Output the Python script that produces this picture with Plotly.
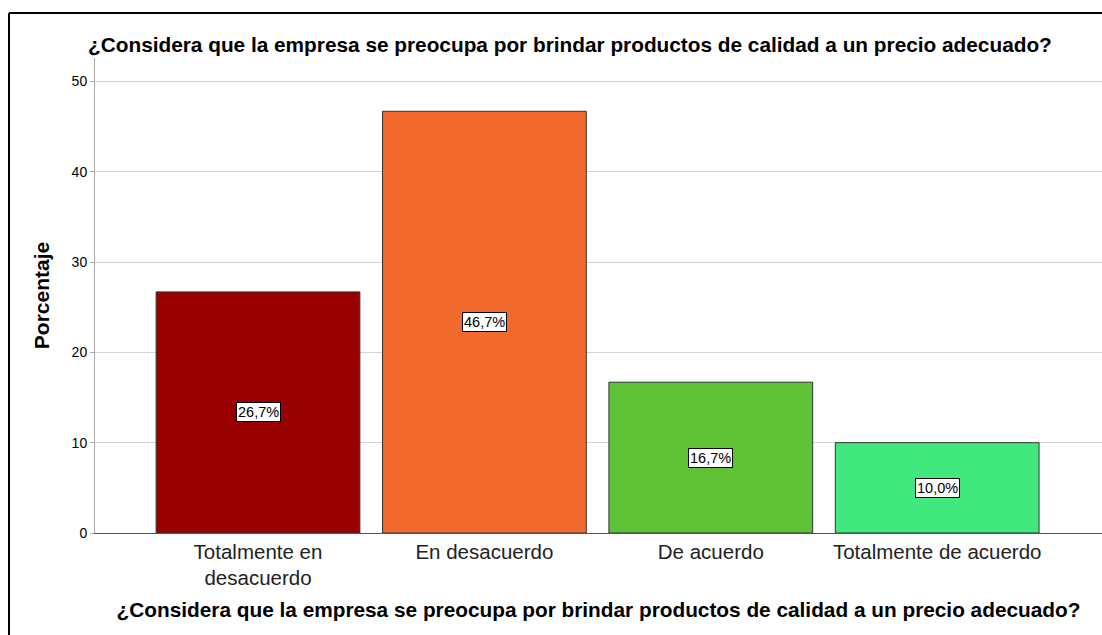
import plotly.graph_objects as go

categories = ["Totalmente en<br>desacuerdo", "En desacuerdo", "De acuerdo", "Totalmente de acuerdo"]
values = [26.7, 46.7, 16.7, 10.0]
labels = ["26,7%", "46,7%", "16,7%", "10,0%"]
colors = ["#990000", "#F26A2E", "#5EC136", "#40E87D"]
title = "¿Considera que la empresa se preocupa por brindar productos de calidad a un precio adecuado?"
y_ticks = [0, 10, 20, 30, 40, 50]

W, H = 1102, 635
L, R, T, B = 95, 0, 58, 102
pw, ph = W - L - R, H - T - B

fig = go.Figure()
fig.add_trace(go.Bar(
    x=list(range(len(categories))), y=values,
    marker=dict(color=colors, line=dict(color="#333333", width=1)),
    width=0.9, hoverinfo="skip",
))

for i, (v, lab) in enumerate(zip(values, labels)):
    fig.add_annotation(x=i, y=v / 2, xref="x", yref="y", text=lab, showarrow=False,
                       font=dict(family="Liberation Sans, Arial", size=14.5, color="black"),
                       bgcolor="white", bordercolor="black", borderwidth=1, borderpad=1)

def px_x(p):
    return (p - L) / pw

def px_y(p):
    return (H - B - p) / ph

fig.add_annotation(x=px_x(570), y=px_y(44), xref="paper", yref="paper", text="<b>" + title + "</b>",
                   showarrow=False, xanchor="center", yanchor="middle",
                   font=dict(family="Liberation Sans, Arial", size=20.8, color="black"))

# frame
fig.add_shape(type="line", xref="paper", yref="paper", x0=px_x(9), y0=px_y(13), x1=px_x(9), y1=px_y(640),
              line=dict(color="black", width=2))
fig.add_shape(type="line", xref="paper", yref="paper", x0=px_x(9), y0=px_y(13), x1=px_x(1110), y1=px_y(13),
              line=dict(color="black", width=2))

fig.update_layout(
    width=W, height=H,
    margin=dict(l=L, r=R, t=T, b=B),
    paper_bgcolor="white", plot_bgcolor="white",
    showlegend=False,
    bargap=0.1,
    font=dict(family="Liberation Sans, Arial", color="black"),
)
fig.update_xaxes(
    tickmode="array", tickvals=list(range(len(categories))), ticktext=categories,
    range=[-0.72, 3.728], showgrid=False, zeroline=False,
    showline=True, linecolor="#555555", linewidth=1,
    ticks="", tickfont=dict(size=20.5, color="#222222"),
    title=dict(text="<b>" + title + "</b>", font=dict(size=20.8, color="black"), standoff=14),
)
fig.update_yaxes(
    range=[0, 52.6], tickvals=y_ticks, showgrid=True, gridcolor="#d4d4d4", gridwidth=1,
    zeroline=False, showline=True, linecolor="#aaaaaa", linewidth=1,
    ticks="outside", ticklen=4, tickcolor="#aaaaaa", tickfont=dict(size=14, color="black"),
    title=dict(text="<b>Porcentaje</b>", font=dict(size=21, color="black"), standoff=16),
)

fig.write_html("out.html")
